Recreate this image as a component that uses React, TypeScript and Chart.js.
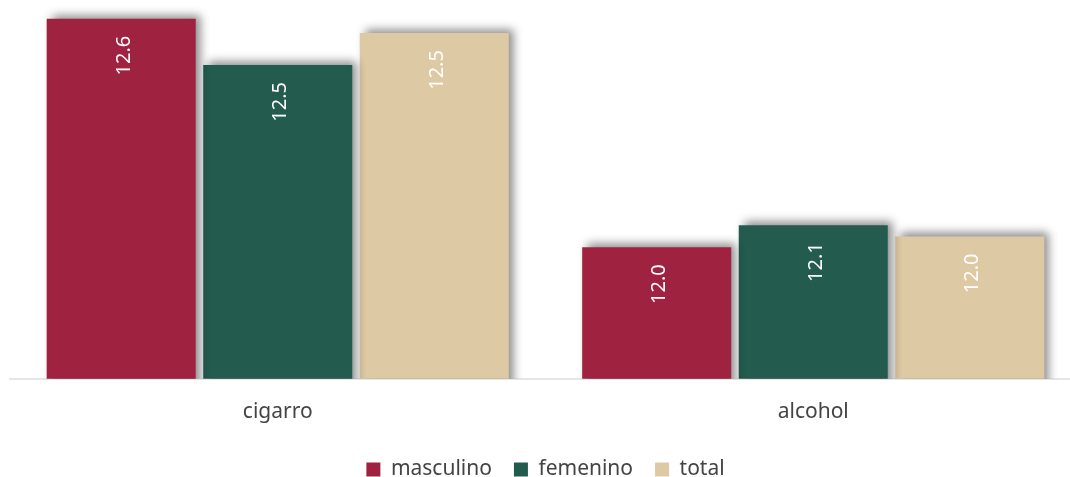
import { useEffect, useRef } from "react";
import { Chart, registerables } from "chart.js";

Chart.register(...registerables);

const categories = ["cigarro", "alcohol"];
const seriesNames = ["masculino", "femenino", "total"];
const masculino = [12.583, 12.01];
const femenino = [12.467, 12.065];
const total = [12.547, 12.037];
const seriesColors = ["#9F2241", "#235B4E", "#DDC9A3"];

const CANVAS_W = 1090;
const CANVAS_H = 490;

const shadowAndLabels = {
  id: "shadowAndLabels",
  beforeDatasetsDraw(chart: any) {
    const ctx = chart.ctx;
    ctx.save();
    ctx.shadowColor = "rgba(0,0,0,0.45)";
    ctx.shadowBlur = 9;
    ctx.shadowOffsetX = 5;
    ctx.shadowOffsetY = -4;
  },
  afterDatasetsDraw(chart: any) {
    const ctx = chart.ctx;
    ctx.restore();
    ctx.save();
    ctx.fillStyle = "#ffffff";
    ctx.font = '20px "Noto Sans"';
    ctx.textAlign = "right";
    ctx.textBaseline = "alphabetic";
    chart.data.datasets.forEach((ds: any, i: number) => {
      const meta = chart.getDatasetMeta(i);
      meta.data.forEach((bar: any, j: number) => {
        const text = Number(ds.data[j]).toFixed(1);
        ctx.save();
        ctx.translate(bar.x, bar.y + 17);
        ctx.rotate(-Math.PI / 2);
        ctx.fillText(text, 0, 8.5);
        ctx.restore();
      });
    });
    ctx.restore();
  },
};

export default function App() {
  const canvasRef = useRef<HTMLCanvasElement | null>(null);

  useEffect(() => {
    if (!canvasRef.current) return;
    const values = [masculino, femenino, total];
    const chart = new Chart(canvasRef.current, {
      type: "bar",
      data: {
        labels: categories,
        datasets: seriesNames.map((name, i) => ({
          label: name,
          data: values[i],
          backgroundColor: seriesColors[i],
          borderWidth: 0,
          categoryPercentage: 0.877,
          barPercentage: 0.952,
          clip: { left: 20, top: 30, right: 30, bottom: 0 } as any,
        })),
      },
      options: {
        responsive: false,
        animation: false,
        layout: { padding: { left: 10, right: 9, top: 0, bottom: 0 } },
        plugins: {
          legend: {
            position: "bottom",
            labels: {
              boxWidth: 14,
              boxHeight: 14,
              padding: 22,
              color: "#444444",
              font: { family: "Noto Sans", size: 21 },
            },
          },
          tooltip: { enabled: false },
        },
        scales: {
          x: {
            grid: { display: false },
            border: { display: true, color: "#e6e6e6", width: 2 },
            ticks: {
              color: "#444444",
              padding: 13,
              font: { family: "Noto Sans", size: 21 },
            },
            afterFit: (scale: any) => {
              scale.height -= 1;
            },
          },
          y: {
            display: false,
            min: 11.68,
            max: 12.63,
          },
        },
      },
      plugins: [shadowAndLabels],
    });
    return () => chart.destroy();
  }, []);

  return (
    <div
      style={{
        position: "fixed",
        left: 0,
        top: 0,
        width: 1070,
        height: 477,
        overflow: "hidden",
        background: "#ffffff",
      }}
    >
      <canvas
        ref={canvasRef}
        width={CANVAS_W}
        height={CANVAS_H}
        style={{ display: "block", width: CANVAS_W, height: CANVAS_H }}
      />
    </div>
  );
}
